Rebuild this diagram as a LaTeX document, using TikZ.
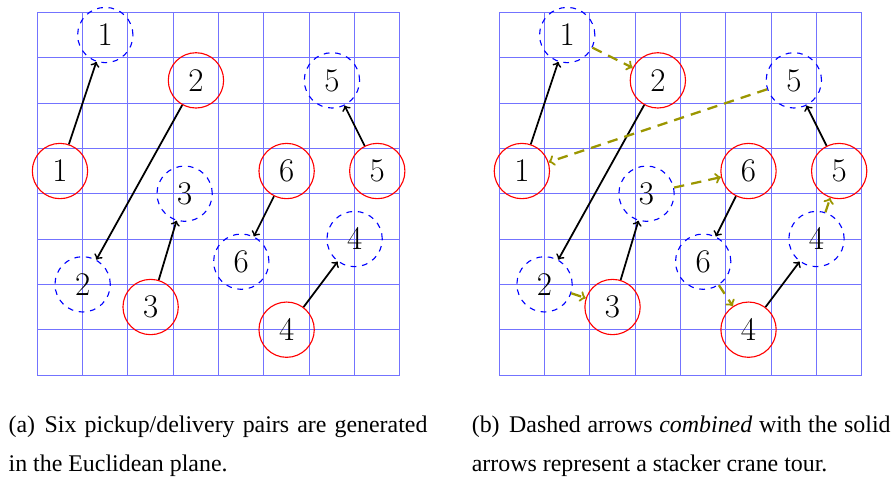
\documentclass[tikz,border=0pt]{standalone}
\usepackage{fontspec}
\newfontfamily\capfont{Liberation Serif}
\definecolor{tourcol}{RGB}{155,150,0}
\begin{document}
\begin{tikzpicture}[x=1cm,y=1cm,
  pick/.style={circle, draw=red, line width=0.7pt, minimum size=1.22cm, inner sep=0pt, font=\fontsize{21}{25}\selectfont},
  drop/.style={circle, draw=blue, dash pattern=on 3.6pt off 3.6pt, line width=0.7pt, minimum size=1.22cm, inner sep=0pt, font=\fontsize{21}{25}\selectfont},
  link/.style={->, line width=1.1pt, draw=black},
  tour/.style={->, line width=1.4pt, draw=tourcol, dash pattern=on 6.5pt off 4.5pt},
  gridline/.style={draw=blue!55, line width=0.6pt},
  captext/.style={anchor=base west, inner sep=0pt, font=\capfont\fontsize{15}{18}\selectfont}]
\useasboundingbox (-0.823,-2.228) rectangle (18.833,8.273);
\foreach \p/\dx in {a/0, b/10.19}{
  \begin{scope}[xshift=\dx cm]
    \draw[gridline] (0,0) grid (8,8);
    \node[pick] (\p P1) at (0.5,4.5) {$1$};
    \node[drop] (\p D1) at (1.5,7.5) {$1$};
    \node[pick] (\p P2) at (3.5,6.5) {$2$};
    \node[drop] (\p D2) at (1,2) {$2$};
    \node[pick] (\p P3) at (2.5,1.5) {$3$};
    \node[drop] (\p D3) at (3.25,4) {$3$};
    \node[pick] (\p P4) at (5.5,1) {$4$};
    \node[drop] (\p D4) at (7,3) {$4$};
    \node[pick] (\p P5) at (7.5,4.5) {$5$};
    \node[drop] (\p D5) at (6.5,6.5) {$5$};
    \node[pick] (\p P6) at (5.5,4.5) {$6$};
    \node[drop] (\p D6) at (4.5,2.5) {$6$};
    \foreach \i in {1,...,6}{ \draw[link] (\p P\i) -- (\p D\i); }
  \end{scope}
}
\draw[tour] (bD1) -- (bP2);
\draw[tour] (bD2) -- (bP3);
\draw[tour] (bD3) -- (bP6);
\draw[tour] (bD4) -- (bP5);
\draw[tour] (bD5) -- (bP1);
\draw[tour] (bD6) -- (bP4);
\node[captext] (capa1) at (-0.64,-1.279) {\makebox[9.24cm][s]{(a)\hspace{0.4em}Six pickup/delivery pairs are generated}};
\node[captext] (capa2) at (-0.64,-2.133) {in the Euclidean plane.};
\node[captext] (capb1) at (9.578,-1.279) {\makebox[9.24cm][s]{(b)\hspace{0.4em}Dashed arrows \textit{combined} with the solid}};
\node[captext] (capb2) at (9.578,-2.133) {arrows represent a stacker crane tour.};
\end{tikzpicture}
\end{document}
